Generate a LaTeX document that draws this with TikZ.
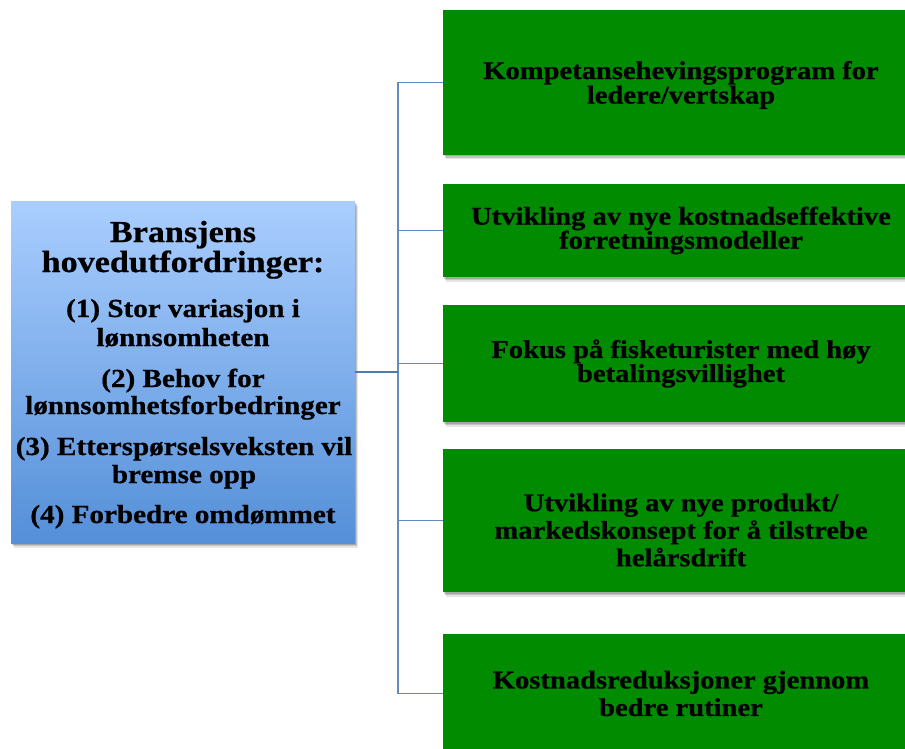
\documentclass[tikz,border=0pt]{standalone}
\usepackage{fontspec}
\setmainfont[FakeStretch=1.12, BoldFeatures={FakeBold=0.7}]{Liberation Serif}
\usetikzlibrary{shadows}
\definecolor{boxgreen}{RGB}{0,139,0}
\definecolor{gradtop}{RGB}{170,206,255}
\definecolor{gradbot}{RGB}{84,143,216}
\definecolor{connmain}{RGB}{79,122,176}
\definecolor{connline}{RGB}{98,139,192}
\tikzset{
  shad/.style={
    drop shadow={shadow xshift=0.5pt, shadow yshift=-1.5pt, opacity=0.15, fill=black},
    drop shadow={shadow xshift=1.5pt, shadow yshift=-3pt, opacity=0.15, fill=black},
    drop shadow={shadow xshift=2.5pt, shadow yshift=-4.5pt, opacity=0.10, fill=black}},
  greenbox/.style={rectangle, fill=boxgreen, shad, minimum width=476pt, inner sep=0pt, align=center, text=black,
     font=\bfseries\fontsize{25.5}{24}\selectfont},
  greenboxwide/.style={greenbox, font=\bfseries\fontsize{25.5}{27.5}\selectfont},
  boxtext/.style={inner sep=0pt, align=center, text=black, font=\bfseries\fontsize{25.5}{27.5}\selectfont},
  leftbox/.style={rectangle, top color=gradtop, bottom color=gradbot, shad, minimum width=344pt, minimum height=342pt, inner sep=0pt},
  titleline/.style={anchor=base, inner sep=0pt, font=\bfseries\fontsize{30.5}{30}\selectfont},
  itemline/.style={anchor=base, inner sep=0pt, font=\bfseries\fontsize{26}{28}\selectfont},
  conn/.style={draw=connline, line width=1.8pt},
  connm/.style={draw=connmain, line width=2.6pt}
}
\begin{document}
\begin{tikzpicture}[x=1pt,y=-1pt]
\useasboundingbox (0,0) rectangle (905,749);
\clip (0,0) rectangle (905,749);
% left box
\node[leftbox] (L) at (183,372) {};
\node[titleline] (t1) at (183,242) {Bransjens};
\node[titleline] (t2) at (183,272) {hovedutfordringer:};
\node[itemline] (i1a) at (183,317) {(1) Stor variasjon i};
\node[itemline] (i1b) at (183,346) {lønnsomheten};
\node[itemline] (i2a) at (183,387) {(2) Behov for};
\node[itemline] (i2b) at (183,414) {lønnsomhetsforbedringer};
\node[itemline] (i3a) at (184,455) {(3) Etterspørselsveksten vil};
\node[itemline] (i3b) at (184,483) {bremse opp};
\node[itemline] (i4) at (183,523) {(4) Forbedre omdømmet};
% right boxes
\node[greenbox, minimum height=145pt] (B1) at (681,82.5) {};
\node[boxtext, font=\bfseries\fontsize{25.5}{24.5}\selectfont] (B1t) at (681,85) {Kompetansehevingsprogram for\\ledere/vertskap};
\node[greenbox, minimum height=93pt] (B2) at (681,230.5) {Utvikling av nye kostnadseffektive\\forretningsmodeller};
\node[greenbox, minimum height=117pt] (B3) at (681,363.5) {Fokus på fisketurister med høy\\betalingsvillighet};
\node[greenbox, minimum height=143pt] (B4) at (681,520.5) {};
\node[boxtext] (B4t) at (681,530) {Utvikling av nye produkt/\\markedskonsept for å tilstrebe\\helårsdrift};
\node[greenboxwide, minimum height=119pt] (B5) at (681,693.5) {Kostnadsreduksjoner gjennom\\bedre rutiner};
% connectors
\coordinate (bus) at (398,372);
\draw[conn] (bus) |- (B1.west);
\draw[conn] (bus) |- (B2.west);
\draw[conn] (bus) |- (B3.west);
\draw[conn] (bus) |- (B4.west);
\draw[conn] (bus) |- (B5.west);
\draw[connm] (L.east) -- (bus);
\end{tikzpicture}
\end{document}
